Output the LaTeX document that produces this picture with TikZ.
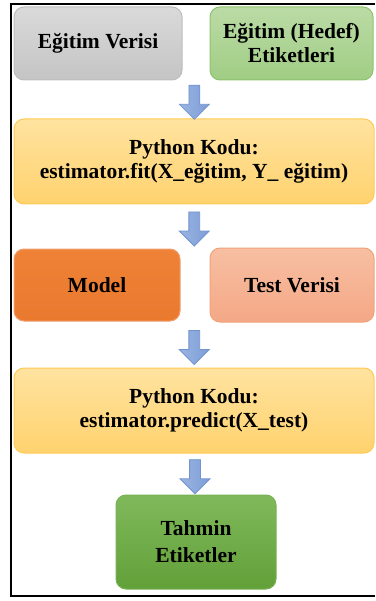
\documentclass[tikz,border=0pt]{standalone}
\usepackage{fontspec}
\setmainfont{Liberation Serif}
\usepackage{tikz}
\usetikzlibrary{
	shapes.arrows,
	calc
}

\definecolor{grayTop}{HTML}{DADADA}
\definecolor{grayBot}{HTML}{C4C4C4}
\definecolor{grayLine}{HTML}{BDBDBD}
\definecolor{lgreenTop}{HTML}{BBDBA6}
\definecolor{lgreenBot}{HTML}{A0CD84}
\definecolor{lgreenLine}{HTML}{8DC36C}
\definecolor{yellowTop}{HTML}{FFE3A0}
\definecolor{yellowBot}{HTML}{FFD26E}
\definecolor{yellowLine}{HTML}{FFCA55}
\definecolor{orangeTop}{HTML}{EE8236}
\definecolor{orangeBot}{HTML}{EA792E}
\definecolor{orangeLine}{HTML}{F0A070}
\definecolor{salmonTop}{HTML}{F7BFA2}
\definecolor{salmonBot}{HTML}{F4A886}
\definecolor{salmonLine}{HTML}{F2A27A}
\definecolor{dgreenTop}{HTML}{80B95B}
\definecolor{dgreenBot}{HTML}{62A039}
\definecolor{dgreenLine}{HTML}{78B252}
\definecolor{arrowTop}{HTML}{9AB4E0}
\definecolor{arrowBot}{HTML}{7E9ED8}
\definecolor{arrowLine}{HTML}{7193D0}

\begin{document}
\begin{tikzpicture}[
    x=1pt, y=-1pt,
    box/.style = { draw,rounded corners=+10pt,line width=1pt,align=center,
                   font=\fontsize{21.5}{24}\selectfont\bfseries },
    arrowstyle/.style = { single arrow,draw=arrowLine,line width=0.8pt,
                   left color=arrowTop,right color=arrowBot,
                   rotate=-90,inner sep=5pt,minimum height=34pt,
                   single arrow head extend=9.5pt,single arrow head indent=0pt }
    ]
    \useasboundingbox (0,0) rectangle (375,601);
    % Frame
    \draw[line width=2pt] (375,4) -- (11,4) -- (11,596) -- (375,596);
    % Definitions
    \coordinate (egv)  at ( 98,  43.5);
    \coordinate (ege)  at (291.5,43.5);
    \coordinate (fit)  at (194, 161.5);
    \coordinate (mdl)  at ( 97, 285  );
    \coordinate (tst)  at (292, 285  );
    \coordinate (prd)  at (194, 410.5);
    \coordinate (thm)  at (196, 542  );
    % Nodes
    \node(EV) at (egv) [box,draw=grayLine,top color=grayTop,bottom color=grayBot,
                        minimum width=168pt,minimum height=73pt] {Eğitim Verisi};
    \node(EH) at (ege) [box,draw=lgreenLine,top color=lgreenTop,bottom color=lgreenBot,
                        minimum width=163pt,minimum height=73pt] {Eğitim (Hedef)\\Etiketleri};
    \node(F)  at (fit) [box,draw=yellowLine,top color=yellowTop,bottom color=yellowBot,
                        minimum width=360pt,minimum height=85pt]
                        {Python Kodu:\\estimator.fit(X\_eğitim, Y\_ eğitim)};
    \node(M)  at (mdl) [box,draw=orangeLine,top color=orangeTop,bottom color=orangeBot,
                        minimum width=166pt,minimum height=72pt] {Model};
    \node(T)  at (tst) [box,draw=salmonLine,top color=salmonTop,bottom color=salmonBot,
                        minimum width=164pt,minimum height=74pt] {Test Verisi};
    \node(P)  at (prd) [box,draw=yellowLine,top color=yellowTop,bottom color=yellowBot,
                        minimum width=360pt,minimum height=85pt]
                        {Python Kodu:\\estimator.predict(X\_test)};
    \node(R)  at (thm) [box,draw=dgreenLine,top color=dgreenTop,bottom color=dgreenBot,
                        minimum width=160pt,minimum height=94pt,
                        font=\fontsize{21.5}{27}\selectfont\bfseries] {Tahmin\\Etiketler};
    % Arrows
    \coordinate (topmid) at ($(EV.south)!0.5!(EH.south)$);
    \coordinate (midtop) at ($(M.north)!0.5!(T.north)$);
    \coordinate (midbot) at ($(M.south)!0.5!(T.south)$);
    \path (topmid) -- (F.north) node(a1)[midway,arrowstyle] {};
    \path (F.south) -- (midtop) node(a2)[midway,arrowstyle] {};
    \path (midbot)  -- (P.north) node(a3)[midway,arrowstyle] {};
    \path (P.south) -- (R.north) node(a4)[midway,arrowstyle] {};
\end{tikzpicture}
\end{document}
